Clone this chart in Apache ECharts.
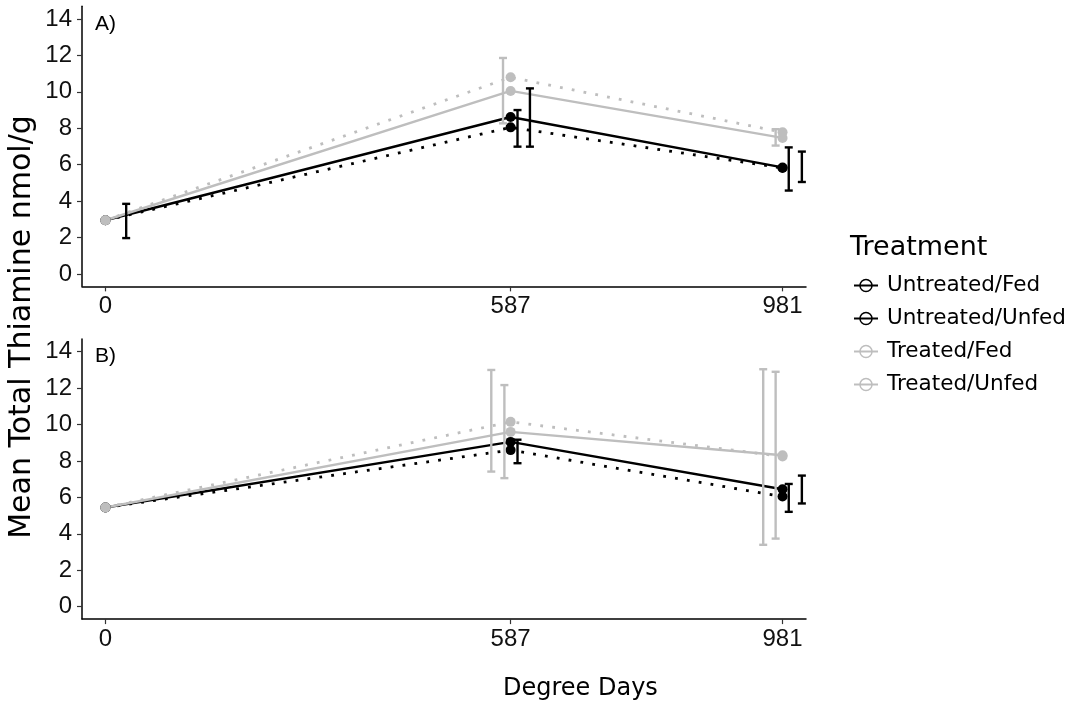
<!DOCTYPE html>
<html><head><meta charset="utf-8">
<script src="https://cdn.jsdelivr.net/npm/echarts@6/dist/echarts.min.js"></script>
<style>html,body{margin:0;padding:0;background:#fff}#c{width:1073px;height:702px}</style>
</head><body><div id="c"></div>
<script>
// ---- data ----
const days = [0, 587, 981];
const xTicks = [0, 587, 981];
const yTicks = [0, 2, 4, 6, 8, 10, 12, 14];
const groupNames = ['Untreated/Fed', 'Untreated/Unfed', 'Treated/Fed', 'Treated/Unfed'];
// Panel A means
const aUntreatedFed   = [2.95, 8.62, 5.85];
const aUntreatedUnfed = [2.95, 8.05, 5.82];
const aTreatedFed     = [2.95, 10.05, 7.47];
const aTreatedUnfed   = [2.95, 10.8, 7.78];
// Panel B means
const bUntreatedFed   = [5.45, 9.05, 6.45];
const bUntreatedUnfed = [5.45, 8.6, 6.05];
const bTreatedFed     = [5.45, 9.6, 8.32];
const bTreatedUnfed   = [5.45, 10.15, 8.25];
// Error bars: [dodged degree days, low, high]
const aErrUntreated = [[30, 1.97, 3.85], [597, 6.99, 9.0], [615, 6.99, 10.19], [990, 4.58, 6.95], [1009, 5.05, 6.72]];
const aErrTreated   = [[576, 8.27, 11.86], [971, 7.05, 7.95]];
const bErrUntreated = [[597, 7.88, 9.17], [990, 5.21, 6.74], [1009, 5.67, 7.2]];
const bErrTreated   = [[559, 7.42, 13.0], [578, 7.06, 12.17], [953, 3.4, 13.04], [971, 3.74, 12.9]];

// ---- styles ----
const BLACK = '#000000', GREY = '#bebebe';
const TICK_FONT = 'Arial';
const TITLE_FONT = 'DejaVu Sans';

function lineSeries(name, vals, idx, color, dotted) {
  return {
    name: name, type: 'line', xAxisIndex: idx, yAxisIndex: idx,
    data: days.map((d, i) => [d, vals[i]]),
    symbol: 'circle', symbolSize: 10, showSymbol: true,
    itemStyle: { color: color, borderWidth: 0 },
    lineStyle: dotted ? { color: color, width: 2.8, type: [2.8, 9.2], cap: 'butt' }
                      : { color: color, width: 2.4 },
    emphasis: { disabled: true }, z: 2
  };
}
function errRender(params, api) {
  const x = api.value(0), lo = api.value(1), hi = api.value(2);
  const pLo = api.coord([x, lo]), pHi = api.coord([x, hi]);
  const w = 4;
  const style = { stroke: api.visual('color'), lineWidth: 2.4 };
  return { type: 'group', children: [
    { type: 'line', shape: { x1: pLo[0], y1: pLo[1], x2: pHi[0], y2: pHi[1] }, style: style },
    { type: 'line', shape: { x1: pLo[0] - w, y1: pLo[1], x2: pLo[0] + w, y2: pLo[1] }, style: style },
    { type: 'line', shape: { x1: pHi[0] - w, y1: pHi[1], x2: pHi[0] + w, y2: pHi[1] }, style: style }
  ]};
}
function errSeries(name, data, idx, color) {
  return { name: name, type: 'custom', xAxisIndex: idx, yAxisIndex: idx,
    data: data, renderItem: errRender, encode: { x: 0, y: [1, 2] },
    itemStyle: { color: color }, z: 3, silent: true };
}
function xAxis(idx) {
  return { type: 'value', gridIndex: idx, min: -34, max: 1015,
    axisLine: { show: true, onZero: false, lineStyle: { color: '#000', width: 1.5 } },
    axisTick: { show: true, customValues: xTicks, length: 5, lineStyle: { color: '#333', width: 1.2 } },
    axisLabel: { customValues: xTicks, fontSize: 24, color: '#111', fontFamily: TICK_FONT, margin: 8 },
    splitLine: { show: false } };
}
function yAxis(idx) {
  return { type: 'value', gridIndex: idx, min: -0.68, max: 14.7,
    axisLine: { show: true, onZero: false, lineStyle: { color: '#000', width: 1.5 } },
    axisTick: { show: true, customValues: yTicks, length: 5, lineStyle: { color: '#333', width: 1.2 } },
    axisLabel: { customValues: yTicks, fontSize: 24, color: '#111', fontFamily: TICK_FONT, margin: 10 },
    splitLine: { show: false } };
}

const colors = [BLACK, BLACK, GREY, GREY];
const chart = echarts.init(document.getElementById('c'), null, { renderer: 'canvas' });
chart.setOption({
  animation: false,
  backgroundColor: '#fff',
  grid: [
    { left: 82, top: 6.25, width: 724, height: 280.1 },
    { left: 82, top: 339, width: 724, height: 280.1 }
  ],
  xAxis: [xAxis(0), xAxis(1)],
  yAxis: [yAxis(0), yAxis(1)],
  legend: {
    orient: 'vertical', left: 853, top: 274.5, padding: 0,
    itemWidth: 24, itemHeight: 15, itemGap: 11,
    selectedMode: false,
    textStyle: { fontSize: 21.5, lineHeight: 22, fontFamily: TITLE_FONT, color: '#000', padding: [0, 0, 0, 4] },
    data: groupNames.map((n, i) => ({
      name: n,
      itemStyle: { color: 'rgba(255,255,255,0)', borderColor: colors[i], borderWidth: 1.5 },
      lineStyle: { color: colors[i], width: 2, type: 'solid' }
    }))
  },
  graphic: [
    { type: 'text', x: 22, y: 327, rotation: Math.PI / 2,
      style: { text: 'Mean Total Thiamine nmol/g', align: 'center', verticalAlign: 'middle',
        fontSize: 30, fontFamily: TITLE_FONT, fill: '#000' } },
    { type: 'text', x: 503, y: 689,
      style: { text: 'Degree Days', align: 'left', verticalAlign: 'middle',
        fontSize: 24, fontFamily: TITLE_FONT, fill: '#000' } },
    { type: 'text', x: 850, y: 248,
      style: { text: 'Treatment', align: 'left', verticalAlign: 'middle',
        fontSize: 27, fontFamily: TITLE_FONT, fill: '#000' } },
    { type: 'text', x: 95, y: 24,
      style: { text: 'A)', align: 'left', verticalAlign: 'middle',
        fontSize: 21, fontFamily: TICK_FONT, fill: '#000' } },
    { type: 'text', x: 95, y: 356.7,
      style: { text: 'B)', align: 'left', verticalAlign: 'middle',
        fontSize: 21, fontFamily: TICK_FONT, fill: '#000' } }
  ],
  series: [
    lineSeries('Untreated/Fed', aUntreatedFed, 0, BLACK, false),
    lineSeries('Untreated/Unfed', aUntreatedUnfed, 0, BLACK, true),
    lineSeries('Treated/Fed', aTreatedFed, 0, GREY, false),
    lineSeries('Treated/Unfed', aTreatedUnfed, 0, GREY, true),
    errSeries('errA_untreated', aErrUntreated, 0, BLACK),
    errSeries('errA_treated', aErrTreated, 0, GREY),
    lineSeries('Untreated/Fed', bUntreatedFed, 1, BLACK, false),
    lineSeries('Untreated/Unfed', bUntreatedUnfed, 1, BLACK, true),
    lineSeries('Treated/Fed', bTreatedFed, 1, GREY, false),
    lineSeries('Treated/Unfed', bTreatedUnfed, 1, GREY, true),
    errSeries('errB_untreated', bErrUntreated, 1, BLACK),
    errSeries('errB_treated', bErrTreated, 1, GREY)
  ]
});
</script>
</body></html>
